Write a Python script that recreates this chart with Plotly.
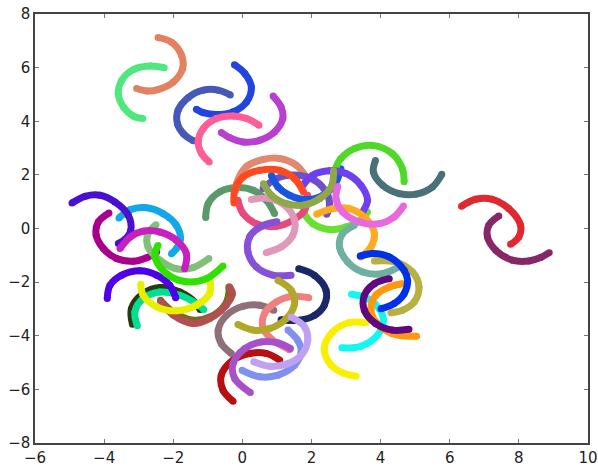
import plotly.graph_objects as go

a01_x = [-2.44, -2.05, -1.76, -1.73, -2.00, -2.44, -2.77, -3.06]
a01_y = [7.12, 6.95, 6.46, 5.96, 5.46, 5.18, 5.13, 5.22]
a02_x = [-2.26, -2.67, -3.15, -3.49, -3.59, -3.44, -3.15, -2.88]
a02_y = [6.00, 6.06, 5.93, 5.53, 5.03, 4.53, 4.19, 4.10]
a04_x = [-0.35, -0.70, -1.13, -1.57, -1.86, -1.88, -1.71, -1.42]
a04_y = [4.98, 5.16, 5.16, 4.88, 4.41, 3.91, 3.54, 3.27]
a05_x = [-0.23, 0.07, 0.26, 0.12, -0.27, -0.75, -1.13, -1.33]
a05_y = [6.11, 5.78, 5.28, 4.72, 4.35, 4.25, 4.32, 4.45]
a06_x = [0.89, 1.12, 1.17, 0.93, 0.50, 0.02, -0.37, -0.61]
a06_y = [4.94, 4.53, 4.10, 3.60, 3.29, 3.23, 3.39, 3.58]
a07_x = [0.48, 0.12, -0.27, -0.75, -1.13, -1.28, -1.18, -0.96]
a07_y = [3.85, 4.10, 4.20, 4.10, 3.73, 3.23, 2.80, 2.48]
a08_x = [-1.06, -0.99, -0.65, -0.17, 0.31, 0.69, 0.93]
a08_y = [0.41, 0.93, 1.37, 1.53, 1.43, 1.06, 0.56]
a09_x = [-0.19, -0.17, 0.11, 0.59, 1.08, 1.56, 1.85]
a09_y = [1.43, 1.67, 2.30, 2.57, 2.61, 2.36, 1.92]
a10_x = [-0.13, 0.02, 0.40, 0.98, 1.46, 1.80, 1.89]
a10_y = [1.05, 0.56, 0.18, 0.08, 0.31, 0.68, 1.24]
a11_x = [0.60, 0.98, 1.56, 2.09, 2.47, 2.52, 2.44]
a11_y = [1.49, 1.86, 1.99, 1.80, 1.24, 0.80, 0.53]
a12_x = [0.84, 1.03, 1.36, 1.85, 2.33, 2.66, 2.85]
a12_y = [1.98, 1.55, 1.24, 1.08, 1.24, 1.61, 2.23]
a13_x = [1.75, 2.04, 2.52, 3.00, 3.48, 3.62]
a13_y = [0.62, 0.18, -0.04, 0.06, 0.37, 0.62]
a14_x = [4.68, 4.63, 4.34, 3.77, 3.24, 2.85, 2.69]
a14_y = [1.74, 2.23, 2.79, 3.10, 2.98, 2.61, 2.23]
a15_x = [3.85, 3.79, 4.06, 4.54, 5.02, 5.50, 5.77]
a15_y = [2.54, 2.11, 1.61, 1.30, 1.28, 1.55, 2.02]
a16_x = [1.75, 2.04, 2.52, 3.00, 3.43, 3.62, 3.48]
a16_y = [1.61, 1.99, 2.15, 2.05, 1.61, 1.05, 0.62]
a17_x = [0.26, 0.79, 1.22, 1.51, 1.46, 1.12, 0.69]
a17_y = [1.08, 1.12, 0.87, 0.31, -0.25, -0.69, -0.90]
a18_x = [1.00, 0.55, 0.21, 0.16, 0.40, 0.88, 1.41]
a18_y = [0.25, 0.08, -0.31, -0.87, -1.43, -1.74, -1.74]
a19_x = [-0.24, -0.22, 0.02, 0.50, 1.08, 1.51, 1.77]
a19_y = [0.95, 1.43, 1.92, 2.17, 2.17, 1.86, 1.36]
a20_x = [0.61, 0.84, 1.27, 1.75, 2.23, 2.57, 2.64]
a20_y = [1.67, 1.24, 0.93, 0.87, 1.11, 1.55, 2.15]
a21_x = [3.24, 2.90, 2.81, 3.05, 3.48, 4.06, 4.52]
a21_y = [0.12, -0.19, -0.69, -1.25, -1.62, -1.68, -1.43]
a22_x = [2.15, 2.61, 3.09, 3.58, 3.82, 3.72, 3.43]
a22_y = [0.53, 0.74, 0.74, 0.37, -0.19, -0.69, -1.06]
a23_x = [2.76, 2.71, 2.90, 3.38, 3.96, 4.39, 4.66]
a23_y = [1.57, 1.11, 0.62, 0.25, 0.18, 0.43, 0.84]
a24_x = [6.34, 6.75, 7.23, 7.71, 8.05, 8.00, 7.76]
a24_y = [0.83, 1.09, 1.09, 0.74, 0.12, -0.31, -0.59]
a25_x = [7.42, 7.13, 7.09, 7.33, 7.81, 8.29, 8.63, 8.88]
a25_y = [0.47, 0.12, -0.31, -0.81, -1.18, -1.21, -1.08, -0.90]
a26_x = [-3.57, -3.25, -2.82, -2.29, -1.91, -1.79, -1.91, -2.05]
a26_y = [0.39, 0.70, 0.78, 0.55, 0.12, -0.38, -0.75, -0.94]
a27_x = [-3.86, -4.17, -4.23, -4.02, -3.64, -3.16, -2.77, -2.48]
a27_y = [0.58, 0.24, -0.25, -0.75, -1.12, -1.22, -1.09, -0.87]
a28_x = [-4.93, -4.55, -4.12, -3.69, -3.30, -3.23, -3.40, -3.59]
a28_y = [0.95, 1.20, 1.24, 0.99, 0.49, -0.07, -0.41, -0.56]
a29_x = [-2.50, -2.73, -2.73, -2.39, -1.91, -1.43, -0.97]
a29_y = [0.14, -0.19, -0.69, -1.18, -1.50, -1.46, -1.12]
a30_x = [-3.54, -3.25, -2.87, -2.39, -1.91, -1.62, -1.67]
a30_y = [-0.75, -0.32, -0.10, -0.13, -0.44, -0.94, -1.50]
a31_x = [-2.44, -2.53, -2.20, -1.62, -1.04, -0.56]
a31_y = [-0.63, -1.06, -1.68, -1.99, -1.87, -1.40]
a32_x = [-3.18, -3.21, -2.87, -2.39, -1.81, -1.33, -1.22]
a32_y = [-3.57, -2.99, -2.43, -2.20, -2.37, -2.80, -3.02]
a33_x = [-3.04, -3.11, -2.87, -2.39, -1.81, -1.33, -1.12]
a33_y = [-3.63, -3.11, -2.61, -2.37, -2.49, -2.80, -3.02]
a34_x = [-2.36, -2.00, -1.43, -0.95, -0.47, -0.29, -0.37]
a34_y = [-2.74, -3.23, -3.54, -3.36, -2.86, -2.43, -2.18]
a35_x = [-3.91, -3.83, -3.49, -2.97, -2.48, -2.10, -1.93]
a35_y = [-2.61, -2.12, -1.74, -1.58, -1.74, -2.12, -2.58]
a36_x = [-2.94, -2.87, -2.48, -1.91, -1.33, -0.95, -0.93]
a36_y = [-2.08, -2.49, -2.92, -3.07, -2.86, -2.43, -1.99]
a37_x = [0.91, 0.50, 0.02, -0.46, -0.70, -0.61, -0.32]
a37_y = [-3.05, -2.86, -2.90, -3.24, -3.79, -4.29, -4.66]
a38_x = [1.63, 2.09, 2.42, 2.37, 2.09, 1.65, 1.12]
a38_y = [-1.50, -1.75, -2.30, -2.86, -3.24, -3.42, -3.40]
a39_x = [1.92, 1.46, 0.98, 0.64, 0.59, 0.83, 1.36]
a39_y = [-2.58, -2.53, -2.74, -3.17, -3.67, -4.11, -4.52]
a40_x = [-0.13, 0.31, 0.79, 1.27, 1.51, 1.41, 1.03]
a40_y = [-3.58, -3.79, -3.73, -3.36, -2.80, -2.30, -1.93]
a41_x = [1.08, 0.69, 0.21, -0.27, -0.61, -0.56, -0.27]
a41_y = [-4.91, -4.66, -4.66, -4.91, -5.47, -6.03, -6.44]
a42_x = [1.32, 1.60, 1.70, 1.51, 1.03, 0.50, -0.01]
a42_y = [-3.79, -4.17, -4.60, -5.10, -5.47, -5.53, -5.29]
a43_x = [1.39, 1.03, 0.55, 0.07, -0.27, -0.22, 0.23]
a43_y = [-4.48, -4.27, -4.23, -4.48, -5.04, -5.60, -6.12]
a44_x = [1.41, 1.80, 1.89, 1.70, 1.27, 0.79, 0.33]
a44_y = [-3.30, -3.67, -4.17, -4.73, -5.06, -5.14, -4.97]
a45_x = [3.58, 3.09, 2.61, 2.37, 2.57, 2.95, 3.29]
a45_y = [-3.51, -3.51, -3.86, -4.48, -5.10, -5.41, -5.51]
a46_x = [3.16, 3.62, 3.96, 4.08, 3.91, 3.43, 2.88]
a46_y = [-2.45, -2.61, -2.99, -3.42, -3.98, -4.39, -4.45]
a47_x = [4.63, 4.25, 3.86, 3.72, 3.86, 4.34, 5.04]
a47_y = [-2.06, -2.18, -2.49, -2.99, -3.48, -3.92, -4.02]
a48_x = [3.82, 4.44, 4.92, 5.11, 4.97, 4.63, 4.30]
a48_y = [-1.21, -1.25, -1.62, -2.18, -2.74, -3.05, -3.14]
a49_x = [3.41, 3.77, 4.25, 4.68, 4.78, 4.68, 4.39, 4.01]
a49_y = [-1.03, -0.93, -1.06, -1.56, -1.93, -2.43, -2.80, -2.99]
a50_x = [4.25, 3.82, 3.53, 3.53, 3.86, 4.34, 4.82]
a50_y = [-1.87, -2.06, -2.49, -3.05, -3.55, -3.79, -3.76]
a51_x = [-2.37, -2.00, -1.43, -0.94, -0.51, -0.39, -0.39]
a51_y = [-2.68, -3.11, -3.42, -3.30, -2.86, -2.43, -2.18]

tick_values_x = [-6, -4, -2, 0, 2, 4, 6, 8, 10]
tick_values_y = [-8, -6, -4, -2, 0, 2, 4, 6, 8]

series = [
    (a01_x, a01_y, "#E28260"), (a02_x, a02_y, "#4FE87F"),
    (a04_x, a04_y, "#4658B8"), (a05_x, a05_y, "#2244E0"),
    (a06_x, a06_y, "#B83FD0"), (a07_x, a07_y, "#FF5C98"),
    (a13_x, a13_y, "#68E030"), (a08_x, a08_y, "#5A9A6A"),
    (a09_x, a09_y, "#E28870"), (a10_x, a10_y, "#E8487A"),
    (a11_x, a11_y, "#6E50C8"), (a12_x, a12_y, "#1A55E0"),
    (a14_x, a14_y, "#50D828"), (a15_x, a15_y, "#4A7078"),
    (a16_x, a16_y, "#7040F0"), (a17_x, a17_y, "#E098B8"),
    (a18_x, a18_y, "#8850D8"), (a19_x, a19_y, "#FF4A20"),
    (a20_x, a20_y, "#90A848"), (a21_x, a21_y, "#70B0A0"),
    (a22_x, a22_y, "#FFAA20"), (a23_x, a23_y, "#E868E0"),
    (a24_x, a24_y, "#E02830"), (a25_x, a25_y, "#862868"),
    (a26_x, a26_y, "#10A8E8"), (a27_x, a27_y, "#A8008C"),
    (a28_x, a28_y, "#4A10D0"), (a29_x, a29_y, "#80C078"),
    (a30_x, a30_y, "#C820C0"),
    (a32_x, a32_y, "#2A3A10"), (a33_x, a33_y, "#00E090"),
    (a51_x, a51_y, "#7A6A20"), (a34_x, a34_y, "#B05050"),
    (a35_x, a35_y, "#4E00E8"),
    (a36_x, a36_y, "#E8F000"), (a31_x, a31_y, "#30E000"),
    (a37_x, a37_y, "#907078"),
    (a38_x, a38_y, "#1A2868"), (a39_x, a39_y, "#F08080"),
    (a40_x, a40_y, "#B0A828"), (a41_x, a41_y, "#B81010"),
    (a42_x, a42_y, "#8090F0"), (a43_x, a43_y, "#A850C8"),
    (a44_x, a44_y, "#C0A0F0"), (a45_x, a45_y, "#F8F000"),
    (a46_x, a46_y, "#10F8F0"), (a47_x, a47_y, "#FF9810"),
    (a48_x, a48_y, "#B8B040"), (a49_x, a49_y, "#0030E8"),
    (a50_x, a50_y, "#600880"),
]

fig = go.Figure()
for xs, ys, color in series:
    fig.add_trace(go.Scatter(
        x=xs, y=ys, mode="lines+markers",
        line=dict(color=color, width=7, shape="spline", smoothing=1.0),
        marker=dict(color=color, size=7),
        hoverinfo="skip",
    ))

axis_common = dict(
    showgrid=False, zeroline=False, showline=True, mirror="allticks",
    linecolor="#444444", linewidth=1.5, ticks="inside", ticklen=4,
    tickwidth=1, tickcolor="#777777", automargin=False,
    ticklabelstandoff=0,
    tickfont=dict(family="DejaVu Sans", size=15, color="#222222"),
)
fig.update_xaxes(range=[-6, 10], tickvals=tick_values_x, **axis_common)
fig.update_yaxes(range=[-8, 8], tickvals=tick_values_y, **axis_common)
fig.update_layout(
    width=598, height=466, showlegend=False,
    paper_bgcolor="white", plot_bgcolor="white",
    margin=dict(l=35, r=10, t=14, b=23),
)
fig.write_html("out.html", config={"displayModeBar": False},
               post_script="document.body.style.margin='0';")
